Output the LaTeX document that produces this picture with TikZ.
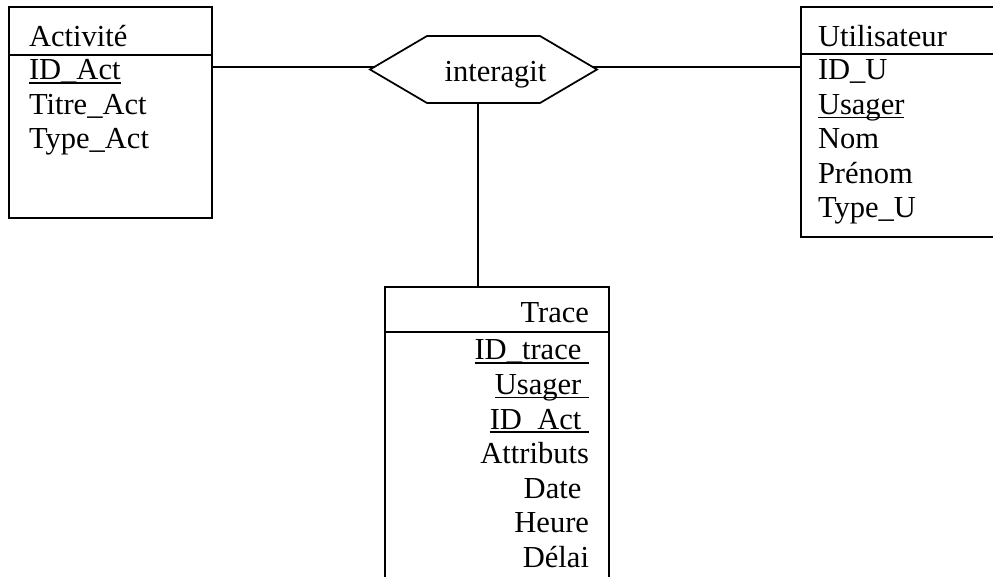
\documentclass[tikz,border=0pt]{standalone}
\usepackage{fontspec}
\setmainfont{Liberation Serif}
% underline drawn at the level of the underscore glyph
\newsavebox\ulbox
\newcommand\ulx[1]{\sbox\ulbox{#1}\rlap{\rule[-0.125em]{\wd\ulbox}{0.05em}}\usebox\ulbox}

\begin{document}
\begin{tikzpicture}[x=0.75pt, y=-0.75pt, line width=1.3pt,
  entity/.style={draw, rectangle, outer sep=0pt, inner sep=0pt, anchor=north west},
  lbl/.style={inner sep=0pt, outer sep=0pt, font=\fontsize{22.9}{26}\selectfont}]
\useasboundingbox (0,0) rectangle (993,577);
\clip (0,0) rectangle (993,577);

% --- entity Activité ---
\node[entity, minimum width=152.25pt, minimum height=158.25pt] (act) at (9,7) {};
\draw (act.north west) ++(0,48) -- ++(203,0);
\node[lbl, anchor=base west] (act-t) at (29,47) {Activité};
\node[lbl, anchor=base west] (act-1) at (29,80) {\ulx{ID\_Act}};
\node[lbl, anchor=base west] (act-2) at (29,114.5) {Titre\_Act};
\node[lbl, anchor=base west] (act-3) at (29,149) {Type\_Act};

% --- entity Utilisateur ---
\node[entity, minimum width=157.5pt, minimum height=172.5pt] (usr) at (801,7) {};
\draw (usr.north west) ++(0,47) -- ++(210,0);
\node[lbl, anchor=base west] (usr-t) at (818,47) {Utilisateur};
\node[lbl, anchor=base west] (usr-1) at (818,80) {ID\_U};
\node[lbl, anchor=base west] (usr-2) at (818,114.5) {\ulx{Usager}};
\node[lbl, anchor=base west] (usr-3) at (818,149) {Nom};
\node[lbl, anchor=base west] (usr-4) at (818,183.5) {Prénom};
\node[lbl, anchor=base west] (usr-5) at (818,218) {Type\_U};

% --- entity Trace ---
\node[entity, minimum width=168pt, minimum height=240pt] (trc) at (385,287) {};
\draw (trc.north west) ++(0,45) -- ++(224,0);
\node[lbl, anchor=base east] (trc-t) at (589,323) {Trace};
\node[lbl, anchor=base east] (trc-1) at (589,360) {\ulx{ID\_trace\ }};
\node[lbl, anchor=base east] (trc-2) at (589,394.5) {\ulx{Usager\ }};
\node[lbl, anchor=base east] (trc-3) at (589,429) {\ulx{ID\_Act\ }};
\node[lbl, anchor=base east] (trc-4) at (589,463.5) {Attributs};
\node[lbl, anchor=base east] (trc-5) at (589,498) {Date\kern0.25em};
\node[lbl, anchor=base east] (trc-6) at (589,532.5) {Heure};
\node[lbl, anchor=base east] (trc-7) at (589,567) {Délai};

% --- relationship interagit ---
\node[minimum width=170.25pt, minimum height=50.25pt, inner sep=0pt, outer sep=0pt] (rel) at (483.5,69.5) {};
\draw (rel.west) -- ([xshift=42.75pt]rel.north west) -- ([xshift=-42.75pt]rel.north east)
  -- (rel.east) -- ([xshift=-42.75pt]rel.south east) -- ([xshift=42.75pt]rel.south west) -- cycle;
\node[lbl, anchor=base] (rel-t) at (495.5,82) {interagit};

% --- links ---
\coordinate (relL) at (375,67);
\coordinate (relR) at (592,67);
\coordinate (relB) at (478,103);
\draw (relL) -- (relL -| act.east);
\draw (relR) -- (relR -| usr.west);
\draw (relB) -- (relB |- trc.north);
\end{tikzpicture}
\end{document}
